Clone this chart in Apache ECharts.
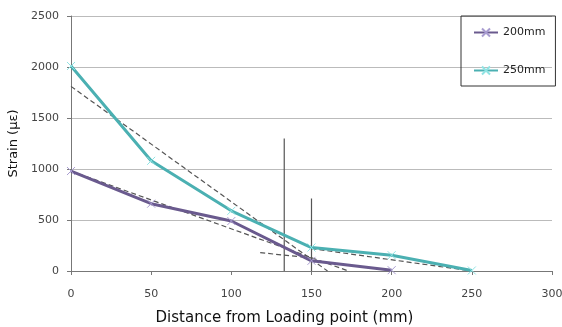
<!DOCTYPE html>
<html>
<head>
<meta charset="utf-8">
<script src="https://cdn.jsdelivr.net/npm/echarts@6/dist/echarts.min.js"></script>
<style>html,body{margin:0;padding:0;background:#fff}#c{width:562px;height:327px}</style>
</head>
<body>
<div id="c"></div>
<script>
var xTicks = [0, 50, 100, 150, 200, 250, 300];
var yTicks = [0, 500, 1000, 1500, 2000, 2500];
var dist200 = [0, 50, 100, 150, 200];
var strain200 = [980, 660, 490, 100, 8];
var dist250 = [0, 50, 100, 150, 200, 250];
var strain250 = [2010, 1080, 590, 230, 155, 5];
// dashed trend lines [x, y] pairs
var trend1 = [[0, 1810], [160, 0]];
var trend2 = [[0, 980], [173, 0]];
var trend3 = [[118, 180], [150, 128]];
var trend4 = [[150, 220], [250, 0]];
// vertical marker lines
var vline1 = [[133, 0], [133, 1300]];
var vline2 = [[150, 0], [150, 710]];

function pairs(xs, ys) { return xs.map(function (x, i) { return [x, ys[i]]; }); }
var cross = 'path://M0,0L10,10M10,0L0,10';
var font = 'DejaVu Sans';

function dashed(d) {
  return { type: 'line', data: d, symbol: 'none', silent: true, z: 3,
    lineStyle: { color: '#555', width: 1.2, type: [5, 3] } };
}
function vline(d) {
  return { type: 'line', data: d, symbol: 'none', silent: true, z: 4,
    lineStyle: { color: '#555', width: 1.2 } };
}

var chart = echarts.init(document.getElementById('c'));
chart.setOption({
  animation: false,
  grid: { left: 71, right: 10, top: 16, bottom: 56, containLabel: false, outerBoundsMode: 'none' },
  legend: {
    data: ['200mm', '250mm'],
    orient: 'vertical', left: 461, top: 16,
    borderColor: '#333', borderWidth: 1,
    padding: [11, 10, 10, 12], itemGap: 27,
    itemWidth: 24, itemHeight: 10,
    textStyle: { fontFamily: font, fontSize: 11, color: '#222' }
  },
  xAxis: {
    type: 'value', min: 0, max: 300, interval: 50,
    name: 'Distance from Loading point (mm)', nameLocation: 'middle', nameGap: 40,
    nameTextStyle: { fontFamily: font, fontSize: 15, color: '#111', padding: [0, 54, 0, 0] },
    axisLine: { show: true, lineStyle: { color: '#777' } },
    axisTick: { show: true, length: 4, lineStyle: { color: '#777' } },
    axisLabel: { fontFamily: font, fontSize: 11, color: '#444', margin: 18 },
    splitLine: { show: false }
  },
  yAxis: {
    type: 'value', min: 0, max: 2500, interval: 500,
    name: 'Strain (\u03bc\u03b5)', nameLocation: 'middle', nameGap: 50,
    nameTextStyle: { fontFamily: font, fontSize: 13, color: '#111' },
    axisLine: { show: true, lineStyle: { color: '#777' } },
    axisTick: { show: true, length: 4, lineStyle: { color: '#777' } },
    axisLabel: { fontFamily: font, fontSize: 11, color: '#444', margin: 12,
      formatter: function (v) { return String(v); } },
    splitLine: { show: true, lineStyle: { color: '#bbb', width: 1 } }
  },
  series: [
    dashed(trend1), dashed(trend2), dashed(trend3), dashed(trend4),
    vline(vline1), vline(vline2),
    {
      name: '200mm', type: 'line', data: pairs(dist200, strain200), z: 5,
      symbol: cross, symbolSize: 8,
      lineStyle: { color: '#6a5a8e', width: 3 },
      itemStyle: { color: '#6a5a8e', borderColor: '#a89cd0', borderWidth: 1 }
    },
    {
      name: '250mm', type: 'line', data: pairs(dist250, strain250), z: 5,
      symbol: cross, symbolSize: 8,
      lineStyle: { color: '#4bb0b2', width: 3 },
      itemStyle: { color: '#4bb0b2', borderColor: '#8fe3e3', borderWidth: 1 }
    }
  ]
});
</script>
</body>
</html>
